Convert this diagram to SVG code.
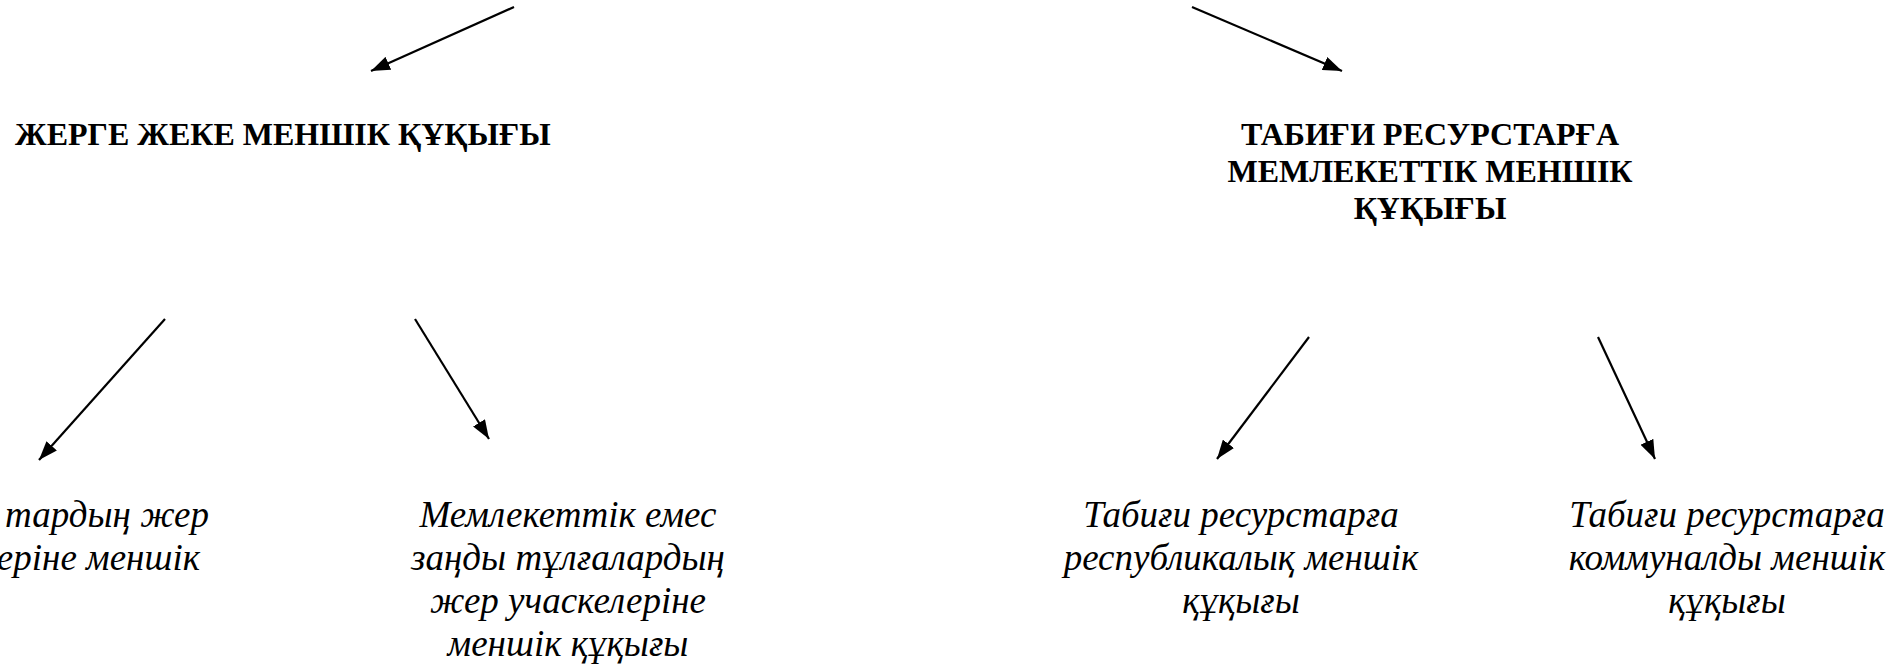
<svg xmlns="http://www.w3.org/2000/svg" width="1897" height="667" viewBox="0 0 1897 667">
<style>
.t{font-family:"Liberation Serif","Times New Roman",serif;font-weight:bold;font-size:32px;fill:#000}
.i{font-family:"Liberation Serif","Times New Roman",serif;font-style:italic;font-size:37px;fill:#000}
.c{stroke:#000;stroke-width:2.2;fill:none;marker-end:url(#ah)}
</style>
<defs>
<marker id="ah" markerUnits="userSpaceOnUse" markerWidth="19" markerHeight="14" refX="19" refY="7" orient="auto">
<path d="M0,0 L19,7 L0,14 z" fill="#000"/>
</marker>
</defs>
<rect width="1897" height="667" fill="#fff"/>
<g id="connectors">
<line class="c" x1="514" y1="7" x2="371" y2="71"/>
<line class="c" x1="1192" y1="7" x2="1342" y2="71"/>
<line class="c" x1="165" y1="319" x2="39" y2="460"/>
<line class="c" x1="415" y1="319" x2="489" y2="439"/>
<line class="c" x1="1309" y1="337" x2="1217" y2="459"/>
<line class="c" x1="1598" y1="337" x2="1655" y2="459"/>
</g>
<g id="private">
<text class="t" x="15" y="145">ЖЕРГЕ ЖЕКЕ МЕНШІК ҚҰҚЫҒЫ</text>
</g>
<g id="state">
<text class="t" text-anchor="middle" x="1430" y="145">ТАБИҒИ РЕСУРСТАРҒА</text>
<text class="t" text-anchor="middle" x="1430" y="182">МЕМЛЕКЕТТІК МЕНШІК</text>
<text class="t" text-anchor="middle" x="1430" y="219">ҚҰҚЫҒЫ</text>
</g>
<g id="citizens">
<text class="i" text-anchor="end" x="209" y="527">тардың жер</text>
<text class="i" text-anchor="end" x="200" y="570">еріне меншік</text>
</g>
<g id="nonstate">
<text class="i" text-anchor="middle" x="568" y="527">Мемлекеттік емес</text>
<text class="i" text-anchor="middle" x="568" y="570">заңды тұлғалардың</text>
<text class="i" text-anchor="middle" x="568" y="613">жер учаскелеріне</text>
<text class="i" text-anchor="middle" x="568" y="656">меншік құқығы</text>
</g>
<g id="republic">
<text class="i" text-anchor="middle" x="1241" y="527">Табиғи ресурстарға</text>
<text class="i" text-anchor="middle" x="1241" y="570">республикалық меншік</text>
<text class="i" text-anchor="middle" x="1241" y="613">құқығы</text>
</g>
<g id="communal">
<text class="i" text-anchor="middle" x="1727" y="527">Табиғи ресурстарға</text>
<text class="i" text-anchor="middle" x="1727" y="570">коммуналды меншік</text>
<text class="i" text-anchor="middle" x="1727" y="613">құқығы</text>
</g>
</svg>
